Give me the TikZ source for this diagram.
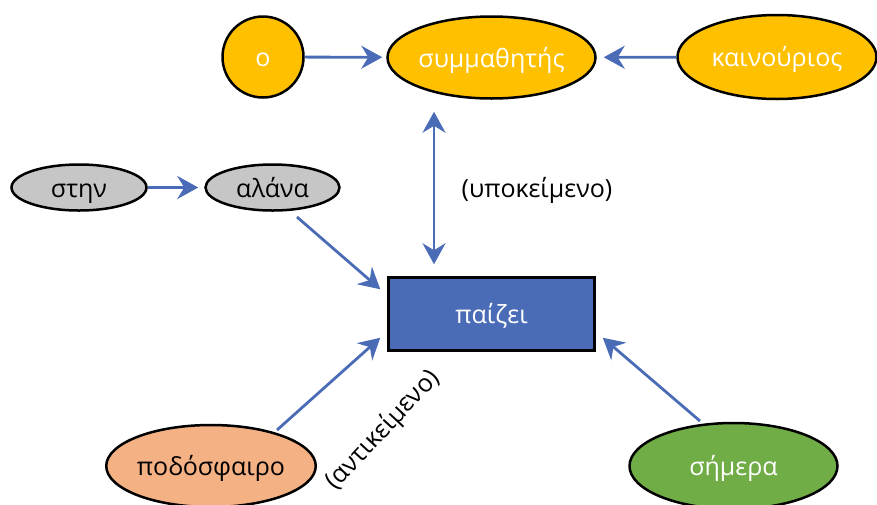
\documentclass[tikz,border=0pt]{standalone}
\usepackage{fontspec}
\setmainfont{Open Sans}
\usetikzlibrary{shapes.geometric,arrows.meta,calc}
\definecolor{yel}{HTML}{FFC000}
\definecolor{gry}{HTML}{C6C6C6}
\definecolor{blu}{HTML}{4A6CB6}
\definecolor{sal}{HTML}{F4B183}
\definecolor{grn}{HTML}{70AD47}
\definecolor{arrblue}{HTML}{4A6CB6}
\tikzset{
  base/.style={draw=black, line width=2.5pt, inner sep=0pt, text height=22pt, text depth=3pt,
    font=\fontsize{25}{29}\selectfont},
  ell/.style={base, ellipse},
  tip/.tip={Stealth[length=21pt,width=23pt,inset=7pt]},
  arr/.style={draw=arrblue, line width=2.8pt, -tip},
  lbl/.style={font=\fontsize{25}{29}\selectfont, text=black, inner sep=0pt}
}
\begin{document}
\begin{tikzpicture}[x=1pt,y=-1pt]
\useasboundingbox (0,0) rectangle (877,504);
% nodes
\node[base, circle, fill=yel, minimum size=81pt, text=white] (o) at (263,57) {ο};
\node[ell, fill=yel, minimum width=208pt, minimum height=82pt, text=white] (s) at (491.5,57.5) {συμμαθητής};
\node[ell, fill=yel, minimum width=199pt, minimum height=84pt, text=white] (k) at (777,57) {καινούριος};
\node[ell, fill=gry, minimum width=135pt, minimum height=46pt] (st) at (79,187.5) {στην};
\node[ell, fill=gry, minimum width=134pt, minimum height=46pt] (al) at (272.5,187.5) {αλάνα};
\node[base, rectangle, fill=blu, minimum width=206pt, minimum height=73pt, text=white] (p) at (491.5,314) {παίζει};
\node[ell, fill=sal, minimum width=205pt, minimum height=82pt] (pod) at (211,466) {ποδόσφαιρο};
\node[ell, fill=grn, minimum width=208pt, minimum height=86pt, text=white] (sim) at (733.5,466) {σήμερα};
% labels
\node[lbl] (lsub) at (537,190) {(υποκείμενο)};
\node[lbl, rotate=47] (lobj) at (383,430) {(αντικείμενο)};
% connectors
\draw[arr, shorten >=4pt] (o) -- (s);
\draw[arr, shorten >=7pt] (k) -- (s);
\draw[arr, shorten >=6pt] (st) -- (al);
\draw[arr, tip-tip, shorten <=12pt, shorten >=12pt] ([xshift=-57.5pt]s.south) -- ([xshift=-57.5pt]p.north);
\draw[arr] ([shift={(24.5,29.5)}]al.center) -- ([shift={(-7,13)}]p.north west);
\draw[arr] ([shift={(66,-36)}]pod.center) -- ([shift={(-7,-14)}]p.south west);
\draw[arr] ([shift={(-33.5,-45)}]sim.center) -- ([shift={(7,-14)}]p.south east);
\end{tikzpicture}
\end{document}
